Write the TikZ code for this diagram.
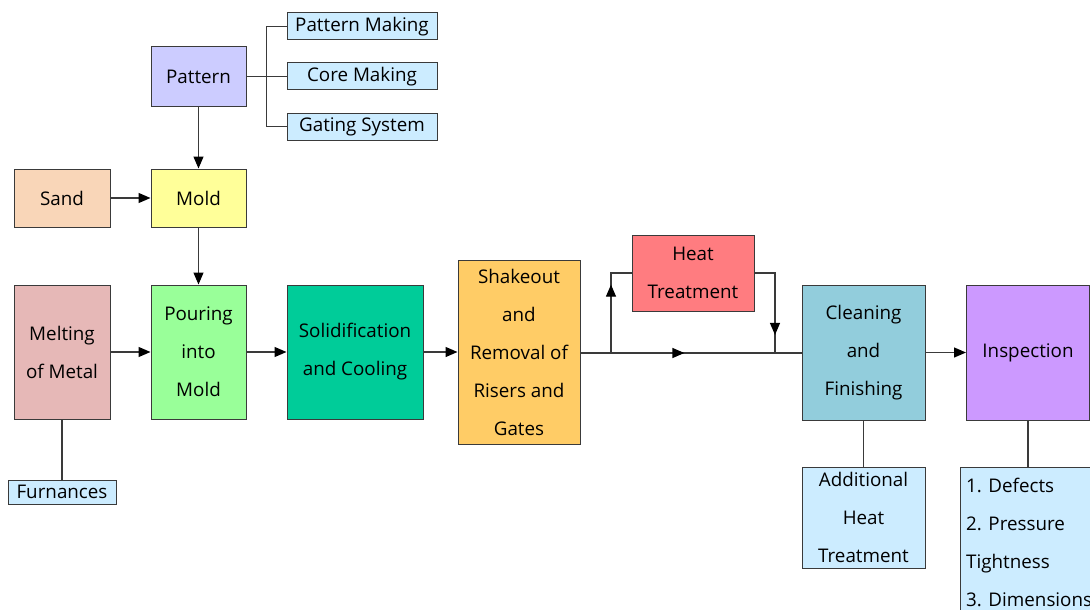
\documentclass[tikz,border=0pt]{standalone}
\usepackage{fontspec}
\setmainfont{Open Sans}
\usetikzlibrary{arrows.meta,decorations.markings}
\definecolor{edge}{HTML}{3A3A3A}
\definecolor{cPattern}{HTML}{CCCCFF}
\definecolor{cSub}{HTML}{CCECFF}
\definecolor{cSand}{HTML}{F9D6B8}
\definecolor{cMold}{HTML}{FFFF99}
\definecolor{cMelt}{HTML}{E6B8B7}
\definecolor{cPour}{HTML}{99FF99}
\definecolor{cSolid}{HTML}{00CC99}
\definecolor{cShake}{HTML}{FFCC66}
\definecolor{cHeat}{HTML}{FF7C80}
\definecolor{cClean}{HTML}{92CDDC}
\definecolor{cInsp}{HTML}{CC99FF}
\tikzset{
  txt/.style={font=\fontsize{18.8}{38}\selectfont},
  box/.style={draw=edge, line width=1pt, inner sep=0pt, align=center, txt},
  link/.style={draw=edge, line width=1.3pt},
  flow/.style={link, -{Triangle[length=12pt,width=10pt,color=black]}},
  midarrow/.style={postaction={decorate}, decoration={markings,
    mark=at position #1 with {\arrow{Triangle[length=12pt,width=10pt,color=black]}}}}
}
\begin{document}
\begin{tikzpicture}[x=1pt,y=-1pt]
\clip (0,0) rectangle (1090,610);
\fill[white] (0,0) rectangle (1090,610);

% pattern and its sub-tasks
\node[box, fill=cPattern, minimum width=95pt, minimum height=59pt] (pat) at (198.5,76.5) {Pattern};
\node[box, fill=cSub, minimum width=150pt, minimum height=27pt] (pm) at (362,26.5) {Pattern Making};
\node[box, fill=cSub, minimum width=150pt, minimum height=27pt] (cm) at (362,76.5) {Core Making};
\node[box, fill=cSub, minimum width=150pt, minimum height=27pt] (gs) at (362,126.5) {Gating System};

% mold preparation
\node[box, fill=cSand, minimum width=96pt, minimum height=58pt] (sand) at (62,198) {Sand};
\node[box, fill=cMold, minimum width=95pt, minimum height=58pt] (mold) at (198.5,198) {Mold};

% main process line
\node[box, fill=cMelt, minimum width=96pt, minimum height=134pt] (melt) at (62,352) {Melting\\of Metal};
\node[box, fill=cPour, minimum width=95pt, minimum height=134pt] (pour) at (198.5,352) {Pouring\\into\\Mold};
\node[box, fill=cSolid, minimum width=136pt, minimum height=134pt] (solid) at (355,352) {Solidification\\and Cooling};
\node[box, fill=cShake, minimum width=122pt, minimum height=184pt] (shake) at (519,352) {Shakeout\\and\\Removal of\\Risers and\\Gates};
\node[box, fill=cHeat, minimum width=122pt, minimum height=76pt] (heat) at (693,273) {Heat\\Treatment};
\node[box, fill=cClean, minimum width=123pt, minimum height=135pt] (clean) at (863.5,352.5) {Cleaning\\and\\Finishing};
\node[box, fill=cInsp, minimum width=123pt, minimum height=135pt] (insp) at (1028,352.5) {Inspection};

% notes under the steps
\node[box, fill=cSub, minimum width=108pt, minimum height=24pt] (furn) at (62,492) {Furnances};
\node[box, fill=cSub, minimum width=123pt, minimum height=101pt] (addl) at (863.5,517.5) {Additional\\Heat\\Treatment};
\node[box, fill=cSub, minimum width=130pt, minimum height=170pt, anchor=north west] (checks) at (960,467) {};
\node[txt, align=left, anchor=north west, inner sep=0pt] (checktext) at (966,478)
  {1. Defects\\2. Pressure\\Tightness\\3. Dimensions};

% connectors
\draw[link] (pat.east) -- (cm.west);
\draw[link] (pm.west) -- ++(-20,0) |- (gs.west);
\draw[flow] (pat) -- (mold);
\draw[flow] (sand) -- (mold);
\draw[flow] (mold) -- (pour);
\draw[flow] (melt) -- (pour);
\draw[flow] (pour) -- (solid);
\draw[flow] (solid) -- (shake);
\draw[link] (melt) -- (furn);
\draw[link] (clean) -- (addl);
\draw[link] (insp) -- (checks.north -| insp.south);
\draw[flow] (clean) -- (insp);

\coordinate (split) at (611,353);
\coordinate (merge) at (775,353);
\draw[link, midarrow=0.47] (shake.east |- split) -- (clean.west |- split);
\draw[link, midarrow=0.68] (split) -- (split |- heat.west) -- (heat.west);
\draw[link, midarrow=0.82] (heat.east) -- (merge |- heat.east) -- (merge);
\end{tikzpicture}
\end{document}
